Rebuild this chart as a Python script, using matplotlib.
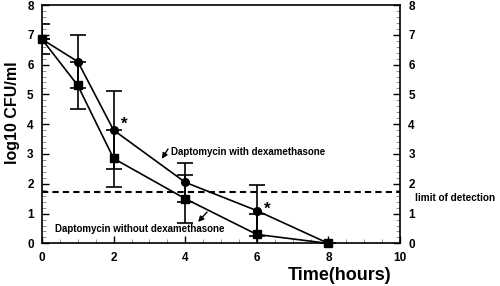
import matplotlib.pyplot as plt
from matplotlib.ticker import MultipleLocator

plt.rcParams['font.family'] = ['Liberation Sans', 'DejaVu Sans']
plt.rcParams['font.weight'] = 'bold'

# Time-kill data (log10 CFU/ml)
hours = [0, 1, 2, 4, 6, 8]
with_dex = [6.85, 6.1, 3.8, 2.05, 1.1, 0.0]
with_dex_err = [0.0, 0.9, 1.3, 0.65, 0.85, 0.0]
without_dex = [6.85, 5.3, 2.85, 1.5, 0.3, 0.0]
without_dex_err = [0.5, 0.8, 0.95, 0.8, 0.7, 0.0]
detection_limit = 1.72

fig = plt.figure(figsize=(5, 2.86), dpi=100)
ax = fig.add_axes([0.084, 0.149, 0.716, 0.8335])

for y, err, mk, ms in [(with_dex, with_dex_err, 'o', 5.5),
                       (without_dex, without_dex_err, 's', 6)]:
    line, caps, bars = ax.errorbar(hours, y, yerr=err, color='black', marker=mk,
                                   markersize=ms, linewidth=1.2, elinewidth=1.2,
                                   capsize=6, capthick=1.2)
    line.set_clip_on(False)

ax.axhline(detection_limit, color='black', linestyle=(0, (3, 2)), linewidth=1.5)

ax.set_xlim(0, 10)
ax.set_ylim(0, 8)
ax.xaxis.set_major_locator(MultipleLocator(2))
ax.xaxis.set_minor_locator(MultipleLocator(0.5))
ax.yaxis.set_major_locator(MultipleLocator(1))
ax.yaxis.set_minor_locator(MultipleLocator(0.2))
ax.tick_params(which='both', direction='in', right=True, labelright=True,
               labelsize=8.5, pad=6)
ax.tick_params(which='major', length=5, width=1)
ax.tick_params(which='minor', length=3, width=0.6, color='gray')
for s in ax.spines.values():
    s.set_linewidth(1.2)

# annotations
arrow = dict(arrowstyle='-|>', color='black', lw=1, mutation_scale=8,
             shrinkA=0, shrinkB=0)
ax.text(2.2, 3.85, '*', fontsize=12)
ax.text(6.2, 1.0, '*', fontsize=12)
ax.annotate('', xy=(3.35, 2.84), xytext=(3.52, 3.17), arrowprops=arrow)
ax.text(3.6, 3.06, 'Daptomycin with dexamethasone', fontsize=7, va='center')
ax.annotate('', xy=(4.36, 0.72), xytext=(4.61, 1.05), arrowprops=arrow)
ax.text(2.74, 0.48, 'Daptomycin without dexamethasone', fontsize=7,
        ha='center', va='center')
ax.text(1.042, 1.52 / 8, 'limit of detection', transform=ax.transAxes,
        fontsize=7.2, va='center', ha='left')

ax.set_ylabel('log10 CFU/ml', fontsize=11.5, fontweight='bold')
ax.yaxis.set_label_coords(-0.062, 0.55)
ax.set_xlabel('Time(hours)', fontsize=13, fontweight='bold')
ax.xaxis.set_label_coords(0.83, -0.1)

plt.savefig('out.png')
